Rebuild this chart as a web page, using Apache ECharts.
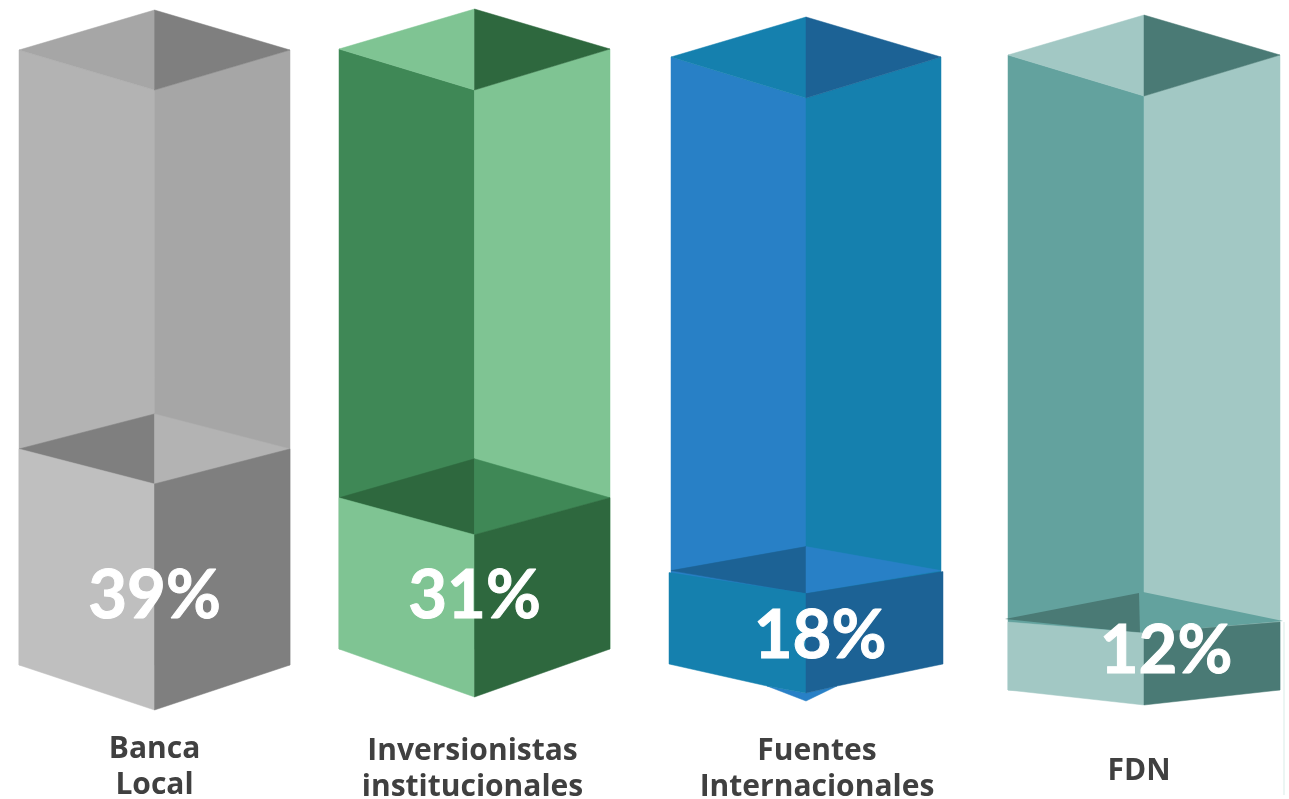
<!DOCTYPE html>
<html>
<head>
<meta charset="utf-8">
<style>html,body{margin:0;padding:0;background:#fff}#c{width:1289px;height:799px}</style>
<script src="https://cdn.jsdelivr.net/npm/echarts@6/dist/echarts.min.js"></script>
</head>
<body>
<div id="c"></div>
<script>
// Data
const categories = ['Banca\nLocal', 'Inversionistas\ninstitucionales', 'Fuentes\nInternacionales', 'FDN'];
const shares = [39, 31, 18, 12];
// Scale of each independent tank (value axis maximum)
const axisMax = [111, 123, 117, 109];

// Layout and style (kept separate from the data)
const frames = [
  {left: 19, right: 290, top: 50, bottom: 665, margin: 66, pad: [0, 0, 0, 0]},
  {left: 339, right: 610, top: 49, bottom: 649, margin: 84, pad: [0, 4, 0, 0]},
  {left: 671, right: 941, top: 57, bottom: 664, margin: 69, pad: [0, 0, 0, 22]},
  {left: 1008, right: 1280, top: 55, bottom: 690, margin: 63, pad: [0, 10, 0, 0]}
];
const shapes = [
  {rise: 40, dip: 40, fRise: 35, fDip: 35, base: 45, labelDx: 0, labelY: 596},
  {rise: 40, dip: 41, fRise: 39, fDip: 37, base: 48, labelDx: 0, labelY: 596},
  {rise: 40, dip: 41, fRise: 24, fDip: 23, base: 29, labelDx: 14, labelY: 636, over: 2, tip: true},
  {rise: 40, dip: 41, fRise: 27, fDip: 13, base: 15, labelDx: 22, labelY: 651, lip: true}
];
const faces = [
  {capL: '#a6a6a6', capR: '#7f7f7f', wallL: '#b3b3b3', wallR: '#a6a6a6', floorL: '#7f7f7f', floorR: '#b3b3b3', frontL: '#bfbfbf', frontR: '#7f7f7f'},
  {capL: '#7fc493', capR: '#2e683e', wallL: '#3f8856', wallR: '#7fc493', floorL: '#2e683e', floorR: '#3f8856', frontL: '#7fc493', frontR: '#2e683e'},
  {capL: '#1580ae', capR: '#1c6295', wallL: '#2880c6', wallR: '#1580ae', floorL: '#1c6295', floorR: '#2880c6', frontL: '#1580ae', frontR: '#1c6295'},
  {capL: '#a2c8c4', capR: '#4a7a75', wallL: '#63a29e', wallR: '#a2c8c4', floorL: '#4a7a75', floorR: '#63a29e', frontL: '#a2c8c4', frontR: '#4a7a75'}
];
const VALUE_FONT = 'Lato, "Open Sans", sans-serif';
const LABEL_FONT = '"Open Sans", Lato, sans-serif';

function poly(points, fill) {
  return {type: 'polygon', shape: {points}, style: {fill, stroke: fill, lineWidth: 0.5}};
}

function tank(i) {
  return function (params, api) {
    const s = shapes[i], f = faces[i], cs = params.coordSys;
    const xL = cs.x, xR = cs.x + cs.width, yT = cs.y;
    const pv = api.coord([api.value(0), api.value(1)]);
    const p0 = api.coord([api.value(0), 0]);
    const xC = pv[0], yF = pv[1], yB = p0[1];
    const over = s.over || 0;
    const kids = [
      poly([[xL, yT], [xC, yT + s.dip], [xC, yB], [xL, yB]], f.wallL),
      poly([[xC, yT + s.dip], [xR, yT], [xR, yB], [xC, yB]], f.wallR),
      poly([[xL, yT], [xC, yT - s.rise], [xC, yT + s.dip]], f.capL),
      poly([[xC, yT - s.rise], [xR, yT], [xC, yT + s.dip]], f.capR)
    ];
    if (s.lip) {
      const a = yF - s.fRise, b = yF + s.fDip;
      kids.push(
        {type: 'polygon', shape: {points: [[xL - 3, yF - 1], [xC - 5, a], [xC - 4, b]]}, style: {fill: f.floorL}},
        {type: 'polygon', shape: {points: [[xC - 1, a - 1], [xR + 3, yF + 1], [xC - 1, b]]}, style: {fill: f.floorR}},
        poly([[xL, yF + 2], [xC, b], [xC, yB + s.base], [xL, yB]], f.frontL),
        poly([[xC, b], [xR, yF + 2], [xR, yB], [xC, yB + s.base]], f.frontR),
        {type: 'line', shape: {x1: xR + 4, y1: yF + 2, x2: xR + 4, y2: 795}, style: {stroke: '#e6f2ef', lineWidth: 1.5}}
      );
    } else {
      kids.push(
        poly([[xL, yF], [xC, yF - s.fRise], [xC, yF + s.fDip]], f.floorL),
        poly([[xC, yF - s.fRise], [xR, yF], [xC, yF + s.fDip]], f.floorR)
      );
      if (s.tip) {
        kids.push(
          poly([[xC - 39, yB + 22], [xC, yB + 37], [xC + 31, yB + 22], [xC, yB + 29]], f.wallL),
          poly([[xL - over, yF + 2], [xC, yF + s.fDip], [xC, yB + 29], [xC - 39, yB + 22], [xL - over, yB]], f.frontL),
          poly([[xC, yF + s.fDip], [xR + over, yF + 1], [xR + over, yB], [xC + 31, yB + 22], [xC, yB + 29]], f.frontR)
        );
      } else {
        kids.push(
          poly([[xL, yF], [xC, yF + s.fDip], [xC, yB + s.base], [xL, yB]], f.frontL),
          poly([[xC, yF + s.fDip], [xR, yF], [xR, yB], [xC, yB + s.base]], f.frontR)
        );
      }
    }
    kids.push({
      type: 'text',
      style: {
        text: api.value(1) + '%', x: xC + s.labelDx, y: s.labelY,
        fill: '#ffffff', stroke: '#ffffff', lineWidth: 1,
        font: 'bold 67px ' + VALUE_FONT, align: 'center', verticalAlign: 'middle'
      }
    });
    return {type: 'group', children: kids};
  };
}

const chart = echarts.init(document.getElementById('c'), null, {renderer: 'canvas'});
chart.setOption({
  backgroundColor: '#ffffff',
  animation: false,
  tooltip: {show: false},
  grid: frames.map(fr => ({
    left: fr.left, width: fr.right - fr.left, top: fr.top, height: fr.bottom - fr.top,
    containLabel: false, outerBoundsMode: 'none'
  })),
  xAxis: categories.map((c, i) => ({
    gridIndex: i, type: 'category', data: [c],
    axisLine: {show: false}, axisTick: {show: false}, splitLine: {show: false},
    axisLabel: {
      margin: frames[i].margin, padding: frames[i].pad, interval: 0, hideOverlap: false,
      color: '#404040', fontFamily: LABEL_FONT, fontWeight: 'bold', fontSize: 30, lineHeight: 36
    }
  })),
  yAxis: axisMax.map((m, i) => ({gridIndex: i, type: 'value', min: 0, max: m, show: false, splitLine: {show: false}})),
  series: shares.map((v, i) => ({
    type: 'custom', xAxisIndex: i, yAxisIndex: i, clip: false, silent: true,
    renderItem: tank(i), data: [[categories[i], v]], encode: {x: 0, y: 1}
  }))
});
</script>
</body>
</html>
